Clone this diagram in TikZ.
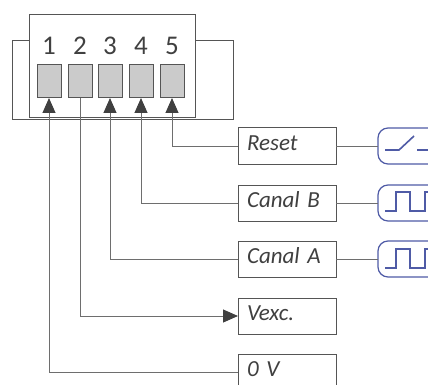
\documentclass[tikz,border=0pt]{standalone}
\usepackage{fontspec}
\setmainfont{Carlito}
\usetikzlibrary{arrows.meta}
\definecolor{edgegray}{HTML}{555555}
\definecolor{wiregray}{HTML}{6E6E6E}
\definecolor{termgray}{HTML}{CBCBCB}
\definecolor{txtgray}{HTML}{404040}
\definecolor{sigblue}{HTML}{4F5BA6}
\tikzset{
  x=1pt,y=-1pt,
  framebox/.style={draw=edgegray,line width=1pt,fill=white,inner sep=0pt,outer sep=0pt,anchor=north west},
  terminal/.style={draw=edgegray,line width=1pt,fill=termgray,inner sep=0pt,outer sep=0pt,anchor=north west,minimum width=24pt,minimum height=33pt},
  digit/.style={text=txtgray,font=\fontsize{27}{27}\selectfont,inner sep=0pt},
  labelbox/.style={draw=edgegray,line width=1pt,fill=white,anchor=north west,outer sep=0pt,inner xsep=9pt,inner ysep=8.5pt,text width=80pt,align=left,text height=14pt,text depth=5pt,text=txtgray,font=\fontsize{23}{23}\selectfont\itshape},
  signalbox/.style={draw=sigblue,line width=1.2pt,fill=white,rounded corners=10pt,anchor=north west,outer sep=0pt,inner sep=0pt,minimum width=90pt,minimum height=36pt},
  wire/.style={draw=wiregray,line width=1pt},
  wirearrow/.style={wire,-{Triangle[length=15pt,width=13pt,color=txtgray]}},
  sigline/.style={draw=sigblue,line width=1.6pt}
}
\begin{document}
\begin{tikzpicture}
\useasboundingbox (0,0) rectangle (428,385);
\clip (0,0) rectangle (428,385);
\node[framebox,minimum width=221pt,minimum height=79pt] (back) at (12,41) {};
\node[framebox,minimum width=166pt,minimum height=103pt] (housing) at (29,15) {};
\foreach \n/\x in {1/37,2/68,3/98,4/129,5/160}{
  \node[terminal] (t\n) at (\x,65) {};
  \node[digit] (d\n) at (\x+12,46) {\n};
}
\node[labelbox] (reset) at (238,128) {Reset};
\node[labelbox] (canalb) at (238,185) {Canal B};
\node[labelbox] (canala) at (238,241) {Canal A};
\node[labelbox] (vexc) at (238,298) {Vexc.};
\node[labelbox] (zero) at (238,354) {0 V};
\node[signalbox] (sw) at (378,128) {};
\node[signalbox] (pb) at (378,185) {};
\node[signalbox] (pa) at (378,241) {};
\draw[wirearrow] (reset.west) -| (t5.south);
\draw[wirearrow] (canalb.west) -| (t4.south);
\draw[wirearrow] (canala.west) -| (t3.south);
\draw[wirearrow] (t2.south) |- (vexc.west);
\draw[wirearrow] (zero.west) -| (t1.south);
\draw[wire] (reset.east) -- (sw.west);
\draw[wire] (canalb.east) -- (pb.west);
\draw[wire] (canala.east) -- (pa.west);
\draw[sigline] (385,150) -- (399,150) -- (414,136) (417,150) -- (428,150);
\foreach \b in {184,241}{
  \draw[sigline] (385,\b+27) -- (396,\b+27) -- (396,\b+8) -- (410,\b+8) -- (410,\b+27) -- (425,\b+27) -- (425,\b+8) -- (428,\b+8);
}
\end{tikzpicture}
\end{document}
